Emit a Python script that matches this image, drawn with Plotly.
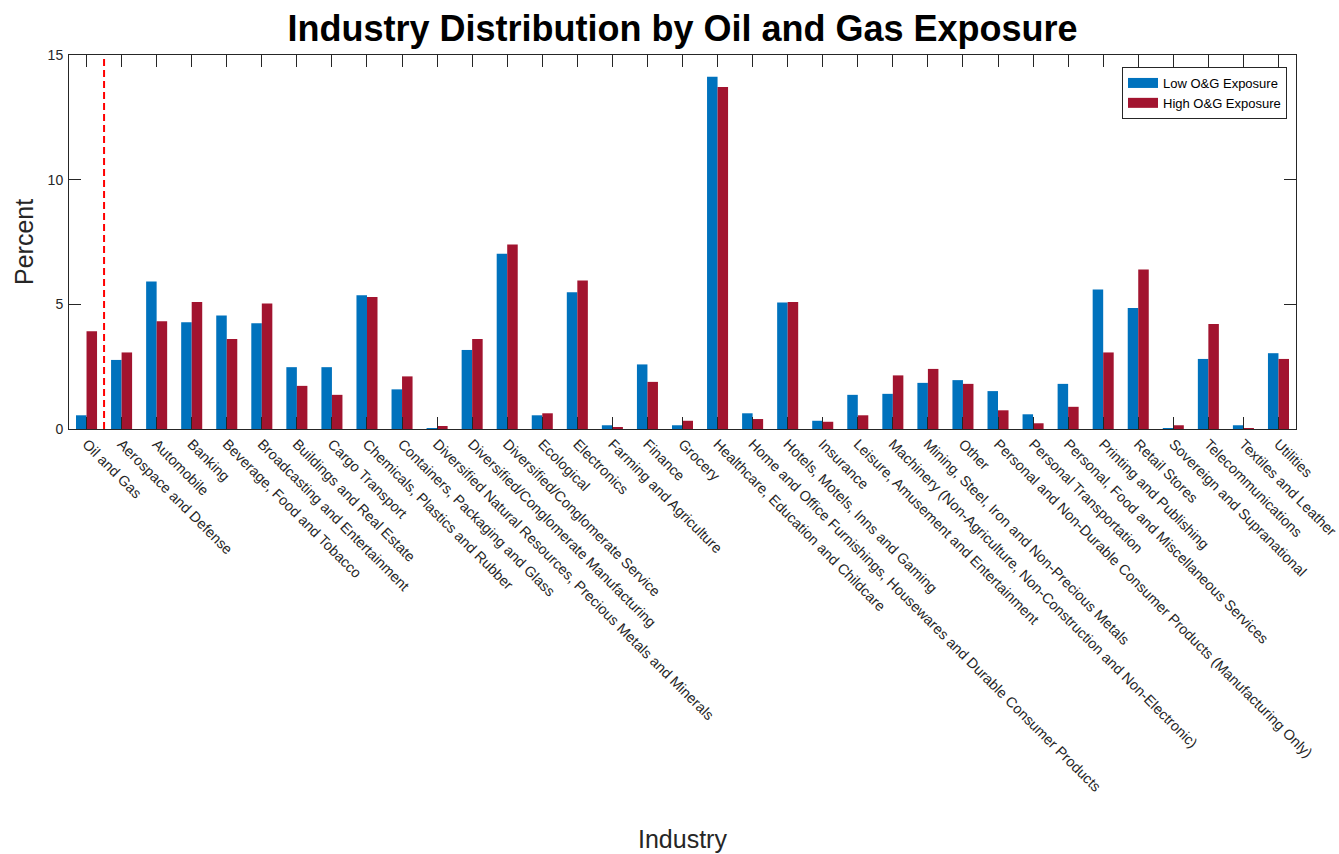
import plotly.graph_objects as go

industries = [
    "Oil and Gas", "Aerospace and Defense", "Automobile", "Banking",
    "Beverage, Food and Tobacco", "Broadcasting and Entertainment",
    "Buildings and Real Estate", "Cargo Transport",
    "Chemicals, Plastics and Rubber", "Containers, Packaging and Glass",
    "Diversified Natural Resources, Precious Metals and Minerals",
    "Diversified/Conglomerate Manufacturing", "Diversified/Conglomerate Service",
    "Ecological", "Electronics", "Farming and Agriculture", "Finance", "Grocery",
    "Healthcare, Education and Childcare",
    "Home and Office Furnishings, Housewares and Durable Consumer Products",
    "Hotels, Motels, Inns and Gaming", "Insurance",
    "Leisure, Amusement and Entertainment",
    "Machinery (Non-Agriculture, Non-Construction and Non-Electronic)",
    "Mining, Steel, Iron and Non-Precious Metals", "Other",
    "Personal and Non-Durable Consumer Products (Manufacturing Only)",
    "Personal Transportation", "Personal, Food and Miscellaneous Services",
    "Printing and Publishing", "Retail Stores", "Sovereign and Supranational",
    "Telecommunications", "Textiles and Leather", "Utilities",
]

low_exposure = [
    0.55, 2.77, 5.92, 4.28, 4.55, 4.24, 2.48, 2.48, 5.36, 1.59,
    0.04, 3.17, 7.03, 0.55, 5.48, 0.15, 2.59, 0.15, 14.13, 0.63,
    5.07, 0.33, 1.37, 1.41, 1.85, 1.96, 1.52, 0.59, 1.81, 5.59,
    4.85, 0.04, 2.81, 0.15, 3.04,
]

high_exposure = [
    3.92, 3.07, 4.32, 5.09, 3.61, 5.03, 1.73, 1.37, 5.29, 2.11,
    0.12, 3.61, 7.40, 0.63, 5.96, 0.08, 1.89, 0.33, 13.72, 0.40,
    5.09, 0.29, 0.55, 2.15, 2.41, 1.81, 0.75, 0.23, 0.89, 3.07,
    6.40, 0.15, 4.21, 0.04, 2.81,
]

series_names = ["Low O&G Exposure", "High O&G Exposure"]
series_colors = ["#0072BD", "#A2142F"]
y_ticks = [0, 5, 10, 15]
divider_after_index = 0  # dashed line separates the first category from the rest

FONT = "Liberation Sans, Arial, sans-serif"
TXT = "#262626"

W, H = 1339, 854

fig = go.Figure()
for vals, name, col in zip([low_exposure, high_exposure], series_names, series_colors):
    fig.add_trace(go.Bar(x=industries, y=vals, name=name, showlegend=False,
                         marker=dict(color=col, line=dict(width=0))))
# wide legend swatches (legend entries only)
for name, col in zip(series_names, series_colors):
    fig.add_trace(go.Scatter(x=[None], y=[None], mode="lines", name=name,
                             line=dict(color=col, width=15), hoverinfo="skip"))

fig.add_shape(type="line", xref="x", yref="paper",
              x0=divider_after_index + 0.5, x1=divider_after_index + 0.5, y0=0, y1=1,
              line=dict(color="#FF0000", width=2, dash="7px,4px"))

plot_l, plot_r, plot_t, plot_b = 69, 1296, 55, 429
plot_w, plot_h = plot_r - plot_l, plot_b - plot_t

fig.update_layout(
    width=W, height=H,
    margin=dict(l=plot_l, r=W - plot_r, t=plot_t, b=H - plot_b),
    paper_bgcolor="white", plot_bgcolor="white",
    barmode="group", bargap=0.4, bargroupgap=0,
    font=dict(family=FONT, color=TXT, size=14),
    title=dict(text="<b>Industry Distribution by Oil and Gas Exposure</b>",
               x=0.5, xref="paper", xanchor="center",
               y=1 - 28 / H, yref="container", yanchor="middle",
               font=dict(family=FONT, size=36, color="black")),
    legend=dict(x=(1287 - plot_l) / plot_w, y=(plot_b - 67) / plot_h,
                xanchor="right", yanchor="top",
                bgcolor="white", bordercolor="#262626", borderwidth=1,
                font=dict(family=FONT, size=13, color="black"),
                tracegroupgap=0, itemwidth=30),
    xaxis=dict(
        type="category", range=[-0.5, len(industries) - 0.5],
        tickangle=45, ticks="inside", ticklen=12, tickcolor=TXT, tickwidth=1,
        showline=True, linecolor=TXT, linewidth=1, mirror="ticks",
        showgrid=False, zeroline=False, automargin=False,
        tickfont=dict(family=FONT, size=14.5, color=TXT),
    ),
    yaxis=dict(
        range=[0, 15], tickvals=y_ticks, ticks="inside", ticklen=12,
        tickcolor=TXT, tickwidth=1, ticklabelstandoff=2,
        showline=True, linecolor=TXT, linewidth=1, mirror="ticks",
        showgrid=False, zeroline=False, automargin=False,
        tickfont=dict(family=FONT, size=14, color=TXT),
    ),
    annotations=[
        dict(text="Industry", xref="paper", yref="paper", x=0.5,
             y=(plot_b - 839) / plot_h,
             xanchor="center", yanchor="middle", showarrow=False,
             font=dict(family=FONT, size=25, color=TXT)),
        dict(text="Percent", xref="paper", yref="paper", x=(24 - plot_l) / plot_w,
             y=0.5, xanchor="center", yanchor="middle", showarrow=False,
             textangle=-90, font=dict(family=FONT, size=25, color=TXT)),
    ],
)

fig.write_html("out.html",
               config={"displayModeBar": False},
               post_script="document.body.style.margin='0';"
                           "document.body.style.overflow='hidden';")
